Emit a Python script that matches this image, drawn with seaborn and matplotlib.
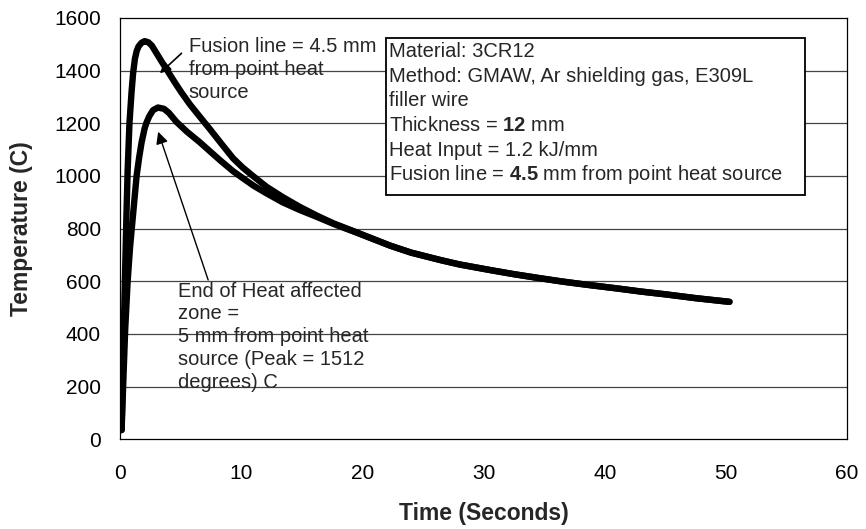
import matplotlib
matplotlib.use("Agg")
import matplotlib.pyplot as plt
from matplotlib.patches import Rectangle
import seaborn as sns

# fusion line curve (4.5 mm from source)
time_fusion = [0.1, 0.2, 0.3, 0.4, 0.5, 0.6, 0.75, 0.92, 1.05, 1.2, 1.35, 1.5, 1.75,
               2.0, 2.3, 2.6, 3.0, 3.4, 3.8, 4.5, 5.0, 5.74, 6.56, 7.39, 8.3, 9.31,
               10.1, 11.0, 12.07, 13.4, 14.8, 16.2, 17.6, 19.5, 22.3, 24.0, 26.4, 28.0,
               30.5, 32.5, 34.6, 36.5, 38.5, 41.0, 43.0, 45.1, 47.5, 50.3]
temp_fusion = [35, 250, 450, 650, 850, 1020, 1200, 1317, 1390, 1445, 1475, 1492, 1506,
               1512, 1508, 1495, 1465, 1435, 1406, 1355, 1320, 1272, 1225, 1178, 1125, 1067,
               1032, 998, 959, 920, 883, 850, 820, 786, 735, 709, 681, 664,
               643, 627, 612, 599, 587, 573, 561, 550, 536, 522]

# end of HAZ curve (5 mm from source)
time_haz = [0.1, 0.25, 0.4, 0.6, 0.8, 1.0, 1.2, 1.34, 1.55, 1.75, 2.0, 2.16, 2.4,
            2.7, 3.1, 3.6, 4.0, 4.64, 5.5, 6.56, 7.39, 8.3, 9.31, 10.1, 11.0, 12.07,
            13.4, 14.8, 16.2, 17.6, 19.5, 22.3, 24.0, 26.4, 28.0, 30.5, 32.5, 34.6,
            36.5, 38.5, 41.0, 43.0, 45.1, 47.5, 50.3]
temp_haz = [35, 230, 420, 600, 730, 830, 930, 1000, 1070, 1127, 1180, 1203, 1228,
            1250, 1260, 1255, 1240, 1205, 1168, 1128, 1094, 1057, 1018, 992, 963, 934,
            900, 871, 845, 818, 785, 735, 709, 681, 664, 643, 627, 612,
            599, 587, 573, 561, 550, 536, 522]

info_lines = ["Material: 3CR12",
              "Method: GMAW, Ar shielding gas, E309L",
              "filler wire",
              r"Thickness = $\mathbf{12}$ mm",
              "Heat Input = 1.2 kJ/mm",
              r"Fusion line = $\mathbf{4.5}$ mm from point heat source"]

sns.set_style("white")
plt.rcParams['font.family'] = ['Liberation Sans', 'DejaVu Sans']
plt.rcParams['mathtext.fontset'] = 'custom'
plt.rcParams['mathtext.rm'] = 'Liberation Sans'
plt.rcParams['mathtext.bf'] = 'Liberation Sans:bold'

fig = plt.figure(figsize=(8.66, 5.29), dpi=100)
ax = fig.add_axes([0.139, 0.1696, 0.839, 0.7964])

for t, T in [(time_fusion, temp_fusion), (time_haz, temp_haz)]:
    sns.lineplot(x=t, y=T, ax=ax, sort=False, estimator=None, color='black',
                 linewidth=4.6, solid_capstyle='round', solid_joinstyle='round', zorder=3)

ax.set_xlim(0, 60)
ax.set_ylim(0, 1600)
ax.set_xticks(range(0, 61, 10))
ax.set_yticks(range(0, 1601, 200))
for yv in range(200, 1600, 200):
    ax.axhline(yv, color='#444444', lw=0.9, zorder=1)

for s in ax.spines.values():
    s.set_color('black')
    s.set_linewidth(0.9)

ax.tick_params(axis='both', direction='out', length=5, width=0.9, color='black',
               labelsize=15, labelcolor='black')
ax.tick_params(axis='x', pad=13)
ax.tick_params(axis='y', pad=9)

ax.set_xlabel("Time (Seconds)", fontsize=16.5, fontweight='bold', va='center')
ax.set_ylabel("Temperature (C)", fontsize=16.5, fontweight='bold', va='center')
ax.xaxis.set_label_coords(0.5, -0.177)
ax.yaxis.set_label_coords(-0.136, 0.5)

# info box
ax.add_patch(Rectangle((0.3655, 0.580), 0.5765, 0.3725, transform=ax.transAxes,
                       facecolor='white', edgecolor='black', lw=1.3, zorder=4))
for i, line in enumerate(info_lines):
    ax.text(22.2, 1472 - i * 93.6, line, fontsize=14.5, va='center', ha='left', zorder=5)

# annotations
ax.text(5.66, 1526, "Fusion line = 4.5 mm\nfrom point heat\nsource", fontsize=14.5,
        va='top', ha='left', linespacing=1.25, zorder=5)
ax.annotate("", xy=(3.26, 1390), xytext=(5.05, 1466),
            arrowprops=dict(arrowstyle='-|>', color='black', lw=1.2, mutation_scale=16,
                            shrinkA=0, shrinkB=0), zorder=5)

ax.text(4.77, 599, "End of Heat affected\nzone =\n5 mm from point heat\nsource (Peak = 1512\ndegrees) C",
        fontsize=14.5, va='top', ha='left', linespacing=1.25, zorder=5)
ax.annotate("", xy=(3.12, 1168), xytext=(7.25, 605),
            arrowprops=dict(arrowstyle='-|>', color='black', lw=1.0, mutation_scale=18,
                            shrinkA=0, shrinkB=0), zorder=5)

fig.savefig("out.png", dpi=100)
